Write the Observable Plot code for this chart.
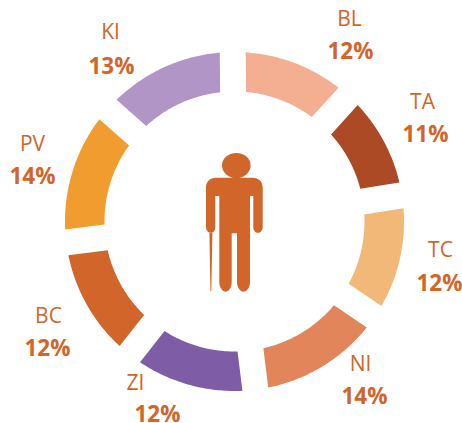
<!DOCTYPE html>
<html><head><meta charset="utf-8">
<script src="https://cdn.jsdelivr.net/npm/d3@7"></script>
<script src="https://cdn.jsdelivr.net/npm/@observablehq/plot@0.6"></script>
<style>html,body{margin:0;padding:0;background:#fff;overflow:hidden}svg{display:block}</style>
</head><body><div id="chart"></div>
<script>
const categories = ["BL","TA","TC","NI","ZI","BC","PV","KI"];
// printed, rounded percentages
const shares = [12,11,12,14,12,12,14,13];
// slice sizes as read from the drawn arcs (unrounded)
const sizes = [11.9,10.8,12,13.5,12.6,12.4,13.5,13.3];
const colors = ["#F4AE91","#AB4A24","#F1B877","#E3855A","#7E5DA6","#D2652A","#F19C2E","#B095C6"];

const W = 462, H = 423, OUTER = 169.5, INNER = 130, HALF_GAP = 13, ROTATE = -0.6;
const cx = 234, cy = 221;
const rad = d => d * Math.PI / 180, deg = r => r * 180 / Math.PI;
const polar = (r, a) => ({px: r * Math.sin(rad(a)), py: -r * Math.cos(rad(a))});

const total = d3.sum(sizes);
let cursor = ROTATE;
const slices = categories.map((name, i) => {
  const b0 = cursor, b1 = b0 + 360 * sizes[i] / total;
  cursor = b1;
  return {name, color: colors[i], b0, b1};
});
// parallel-sided gaps: the angular trim depends on the radius
const arcPoints = (s, r) => {
  const trim = deg(Math.asin(HALF_GAP / r)), a0 = s.b0 + trim, a1 = s.b1 - trim;
  return d3.range(0, 49).map(k => ({...polar(r, a0 + (a1 - a0) * k / 48), name: s.name, color: s.color}));
};
const ringPts = slices.flatMap(s => [...arcPoints(s, OUTER), ...arcPoints(s, INNER).reverse()]);

const nameAt = {BL:[349,19],TA:[422,102],TC:[440,250],NI:[360,364],ZI:[135,383],BC:[48,316],PV:[32,144],KI:[110,32]};
const pctAt = {BL:[350,51],TA:[425,134],TC:[439,283],NI:[364,396],ZI:[157,414],BC:[47,348],PV:[32,176],KI:[111,66]};
const labels = categories.map((name, i) => ({
  name, pct: shares[i] + "%",
  nx: nameAt[name][0] - cx, ny: nameAt[name][1] - cy,
  vx: pctAt[name][0] - cx, vy: pctAt[name][1] - cy
}));

const figurePath = "M219.3 196V177.7H216C210 177.7 206 181.5 206 187.5V227C206 230.5 208.5 232.8 211 232.8C213.5 232.8 215.3 230.5 215.3 227V196H219.3V282C219.3 288 223 291.7 225.5 291.7C228.5 291.7 231.7 288 231.7 282V233.3H237V282C237 288 240.5 291.7 243.5 291.7C246.5 291.7 250 288 250 282V196H253.3V227C253.3 230.5 255.5 232.8 258 232.8C260.5 232.8 262.7 230.5 262.7 227V187.5C262.7 181.5 258.5 177.7 252.5 177.7H219.3Z M209.4 232.5H212.4L211.3 291H210.4Z";

const figure = () => {
  const g = d3.create("svg:g").attr("fill", "#D2652A");
  g.append("ellipse").attr("cx", 236.3).attr("cy", 165.5).attr("rx", 14.3).attr("ry", 12.6);
  g.append("path").attr("d", figurePath);
  return g.node();
};

const chart = Plot.plot({
  width: W, height: H, margin: 0,
  style: {background: "#fff", fontFamily: "'Open Sans', sans-serif"},
  x: {domain: [-cx, W - cx], range: [0, W], axis: null},
  y: {domain: [-cy, H - cy], range: [0, H], axis: null},
  marks: [
    Plot.line(ringPts, {x: "px", y: "py", z: "name", fill: "color", stroke: null, curve: "linear"}),
    figure,
    Plot.text(labels, {x: "nx", y: "ny", text: "name", fontSize: 21, fill: "#D2652A"}),
    Plot.text(labels, {x: "vx", y: "vy", text: "pct", fontSize: 22.5, fontWeight: 700, fill: "#D2652A"})
  ]
});
document.getElementById("chart").append(chart);
</script></body></html>
